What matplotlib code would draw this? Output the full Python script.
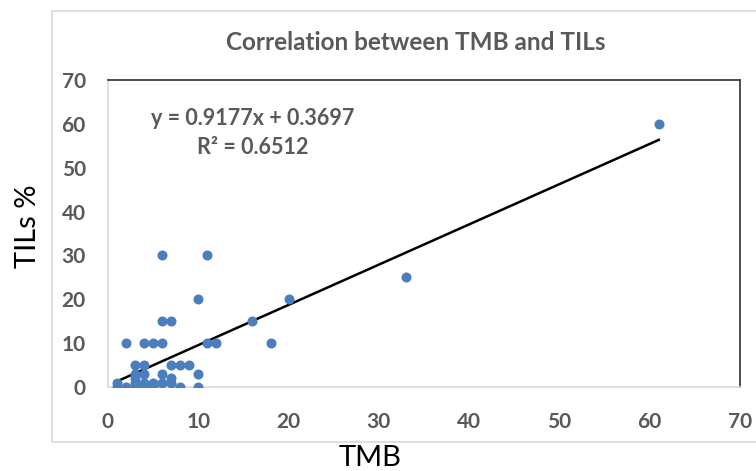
import numpy as np
import matplotlib.pyplot as plt
from matplotlib.patches import Rectangle

# TMB (x) and TILs % (y)
tmb = [1, 1, 2, 2, 3, 3, 3, 3, 3, 4, 4, 4, 4, 4, 5, 5, 5, 6, 6, 6, 6, 6,
       7, 7, 7, 7, 8, 8, 9, 10, 10, 10, 11, 11, 12, 16, 18, 20, 33, 61]
tils = [0, 1, 0, 10, 0, 1, 2, 3, 5, 0, 1, 3, 5, 10, 0, 1, 10, 1, 3, 10, 15, 30,
        1, 2, 5, 15, 0, 5, 5, 0, 3, 20, 10, 30, 10, 15, 10, 20, 25, 60]

# Excel linear trendline as reported on the chart
slope = 0.9177
intercept = 0.3697
r2 = 0.6512

ticks = [0, 10, 20, 30, 40, 50, 60, 70]

plt.rcParams['font.family'] = ['Lato', 'DejaVu Sans']
gray = '#595959'

W, H = 756, 471
fig = plt.figure(figsize=(W / 100, H / 100), dpi=100)

# outer chart border
fig.patches.append(Rectangle((52 / W, 1 - 442 / H), (770 - 52) / W, (442 - 11) / H,
                             transform=fig.transFigure, fill=False,
                             edgecolor='#d9d9d9', lw=1.2))

ax = fig.add_axes([108 / W, 1 - 387 / H, (740 - 108) / W, (387 - 80) / H])

ax.scatter(tmb, tils, s=52, color='#4a7ebf', zorder=3, linewidths=0)

xs = np.array([min(tmb), max(tmb)])
ax.plot(xs, slope * xs + intercept, color='black', lw=1.8, zorder=2)

ax.set_xlim(0, 70)
ax.set_ylim(0, 70)
ax.set_xticks(ticks)
ax.set_yticks(ticks)
ax.tick_params(axis='both', length=0, labelsize=15, labelcolor=gray)
ax.tick_params(axis='y', pad=16)
ax.tick_params(axis='x', pad=18)
for lab in ax.get_xticklabels() + ax.get_yticklabels():
    lab.set_fontweight('bold')

for s in ['top', 'right']:
    ax.spines[s].set_color('#404040')
    ax.spines[s].set_linewidth(1.3)
for s in ['left', 'bottom']:
    ax.spines[s].set_color('#d9d9d9')
    ax.spines[s].set_linewidth(1.2)

ax.text(16, 61.3, 'y = 0.9177x + 0.3697', ha='center', va='center',
        fontsize=15.5, fontweight='bold', color=gray)
ax.text(16, 54.5, 'R\u00b2 = %.4f' % r2, ha='center', va='center',
        fontsize=15.5, fontweight='bold', color=gray)

fig.text(416 / W, 1 - 42 / H, 'Correlation between TMB and TILs', ha='center',
         va='center', fontsize=17.5, fontweight='bold', color=gray)
fig.text(370 / W, 1 - 458 / H, 'TMB', ha='center', va='center', fontsize=21,
         color='black')
fig.text(28 / W, 1 - 226 / H, 'TILs %', ha='center', va='center', fontsize=21,
         rotation=90, color='black')

fig.savefig('out.png', dpi=100)
